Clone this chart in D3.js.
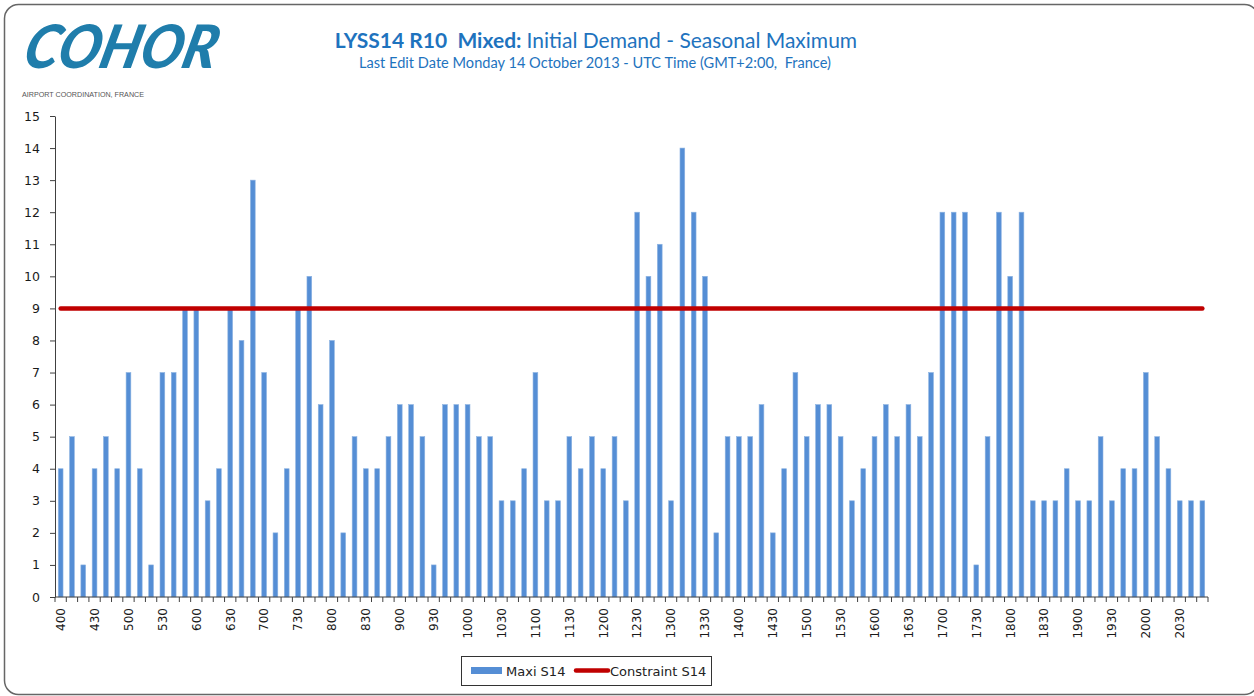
<!DOCTYPE html>
<html>
<head>
<meta charset="utf-8">
<script src="https://cdn.jsdelivr.net/npm/d3@7"></script>
<style>
  html, body { margin:0; padding:0; background:#fff; }
  svg { display:block; }
  svg text { white-space:pre; }
  .axis path, .axis line { stroke:#404040; }
  .axis text { font-family:"DejaVu Sans", Verdana, sans-serif; fill:#1a1a1a; }
</style>
</head>
<body>
<div class="chart-container"></div>
<script>
// Data
// créneaux de 10 minutes, de 400 à 2050
const times = [
  '400','410','420','430','440','450',
  '500','510','520','530','540','550',
  '600','610','620','630','640','650',
  '700','710','720','730','740','750',
  '800','810','820','830','840','850',
  '900','910','920','930','940','950',
  '1000','1010','1020','1030','1040','1050',
  '1100','1110','1120','1130','1140','1150',
  '1200','1210','1220','1230','1240','1250',
  '1300','1310','1320','1330','1340','1350',
  '1400','1410','1420','1430','1440','1450',
  '1500','1510','1520','1530','1540','1550',
  '1600','1610','1620','1630','1640','1650',
  '1700','1710','1720','1730','1740','1750',
  '1800','1810','1820','1830','1840','1850',
  '1900','1910','1920','1930','1940','1950',
  '2000','2010','2020','2030','2040','2050'
];
const maxiS14 = [
  4,5,1,4,5,4,
  7,4,1,7,7,9,
  9,3,4,9,8,13,
  7,2,4,9,10,6,
  8,2,5,4,4,5,
  6,6,5,1,6,6,
  6,5,5,3,3,4,
  7,3,3,5,4,5,
  4,5,3,12,10,11,
  3,14,12,10,2,5,
  5,5,6,2,4,7,
  5,6,6,5,3,4,
  5,6,5,6,5,7,
  12,12,12,1,5,12,
  10,12,3,3,3,4,
  3,3,5,3,4,4,
  7,5,4,3,3,3
];
const constraintS14 = 9;
const yTicks = d3.range(0, 16);
const xTickLabels = times.filter((t, i) => i % 3 === 0);

const svg_width = 1254;
const svg_height = 696;
const plot = {left:55, right:1208, top:116, bottom:597};

const svg = d3.select('.chart-container').append('svg')
  .attr('width', svg_width).attr('height', svg_height);

// cadre arrondi
svg.append('rect')
  .attr('x', 4.5).attr('y', 4.5)
  .attr('width', 1254).attr('height', 690)
  .attr('rx', 14).attr('ry', 14)
  .style('fill', 'none').style('stroke', '#666').style('stroke-width', 1.5);

// logo
svg.append('text')
  .attr('x', 24).attr('y', 68)
  .attr('textLength', 192).attr('lengthAdjust', 'spacingAndGlyphs')
  .attr('transform', 'skewX(-14) translate(14,0)')
  .style('font-family', 'Lato, sans-serif')
  .style('font-weight', 900).style('font-style', 'italic')
  .style('font-size', '60px').style('fill', '#1f7dab')
  .text('COHOR');
svg.append('text')
  .attr('x', 22).attr('y', 97)
  .attr('textLength', 122).attr('lengthAdjust', 'spacingAndGlyphs')
  .style('font-family', '"Liberation Sans Narrow", "Liberation Sans", sans-serif')
  .style('font-size', '7px').style('fill', '#555')
  .text('AIRPORT COORDINATION, FRANCE');

// titre
const title = svg.append('text')
  .attr('x', 596).attr('y', 48)
  .style('text-anchor', 'middle')
  .style('font-family', 'Lato, sans-serif')
  .style('font-size', '21px').style('fill', '#1e73be');
title.append('tspan').style('font-weight', 'bold').text('LYSS14 R10  Mixed: ');
title.append('tspan').text('Initial Demand - Seasonal Maximum');
svg.append('text')
  .attr('x', 595).attr('y', 68)
  .style('text-anchor', 'middle')
  .style('font-family', 'Lato, sans-serif')
  .style('font-size', '14.6px').style('fill', '#1e73be')
  .text('Last Edit Date Monday 14 October 2013 - UTC Time (GMT+2:00,  France)');

// scales
const xScale = d3.scaleBand().domain(times)
  .range([plot.left, plot.right]).paddingInner(0.58).paddingOuter(0.29);
const yScale = d3.scaleLinear().domain([0, 15]).range([plot.bottom, plot.top]);
const step = xScale.step();

// bars
svg.append('g').selectAll('.bar').data(maxiS14).join('rect')
  .attr('class', 'bar')
  .attr('x', (d, i) => xScale(times[i]))
  .attr('y', d => yScale(d))
  .attr('width', xScale.bandwidth())
  .attr('height', d => yScale(0) - yScale(d))
  .style('fill', '#558ed5')
  .style('stroke', '#8db3e2').style('stroke-width', 0.6);

// constraint line
const line = d3.line()
  .x(t => xScale(t) + xScale.bandwidth() / 2)
  .y(() => yScale(constraintS14));
svg.append('path')
  .datum([times[0], times[times.length - 1]])
  .attr('d', line)
  .style('fill', 'none').style('stroke', '#c00000')
  .style('stroke-width', 4.5).style('stroke-linecap', 'round');

// y axis
const yAxis = d3.axisLeft(yScale).tickValues(yTicks).tickFormat(d3.format('d'))
  .tickSizeInner(5).tickSizeOuter(0).tickPadding(10);
svg.append('g').attr('class', 'y axis')
  .attr('transform', `translate(${plot.left},0)`)
  .call(yAxis)
  .selectAll('text').style('font-size', '12.5px');

// x axis : étiquettes tous les 30 min, graduations entre catégories
const xAxis = d3.axisBottom(xScale).tickValues(xTickLabels)
  .tickSize(0).tickPadding(0);
const xAxisDraw = svg.append('g').attr('class', 'x axis')
  .attr('transform', `translate(0,${plot.bottom})`)
  .call(xAxis);
xAxisDraw.select('.domain').attr('d', `M${plot.left},0H${plot.right}`);
xAxisDraw.selectAll('text')
  .attr('transform', 'rotate(-90)')
  .attr('x', -11).attr('y', 0).attr('dy', '0.36em')
  .style('text-anchor', 'end').style('font-size', '12px');
xAxisDraw.selectAll('.boundary').data(d3.range(times.length + 1)).join('line')
  .attr('class', 'boundary')
  .attr('x1', i => plot.left + i * step).attr('x2', i => plot.left + i * step)
  .attr('y1', 0).attr('y2', 5)
  .style('stroke', '#404040');

// legend
const legend = svg.append('g').attr('class', 'legend');
legend.append('rect')
  .attr('x', 461.5).attr('y', 656.5).attr('width', 250).attr('height', 29)
  .style('fill', '#fff').style('stroke', '#333');
legend.append('rect')
  .attr('x', 471).attr('y', 667).attr('width', 31).attr('height', 7)
  .style('fill', '#558ed5');
legend.append('text')
  .attr('x', 506).attr('y', 676)
  .style('font-family', '"DejaVu Sans", Verdana, sans-serif')
  .style('font-size', '13px').style('fill', '#222')
  .text('Maxi S14');
legend.append('line')
  .attr('x1', 576).attr('x2', 608).attr('y1', 670.5).attr('y2', 670.5)
  .style('stroke', '#c00000').style('stroke-width', 4.5).style('stroke-linecap', 'round');
legend.append('text')
  .attr('x', 610).attr('y', 676)
  .style('font-family', '"DejaVu Sans", Verdana, sans-serif')
  .style('font-size', '13px').style('fill', '#222')
  .text('Constraint S14');
</script>
</body>
</html>
